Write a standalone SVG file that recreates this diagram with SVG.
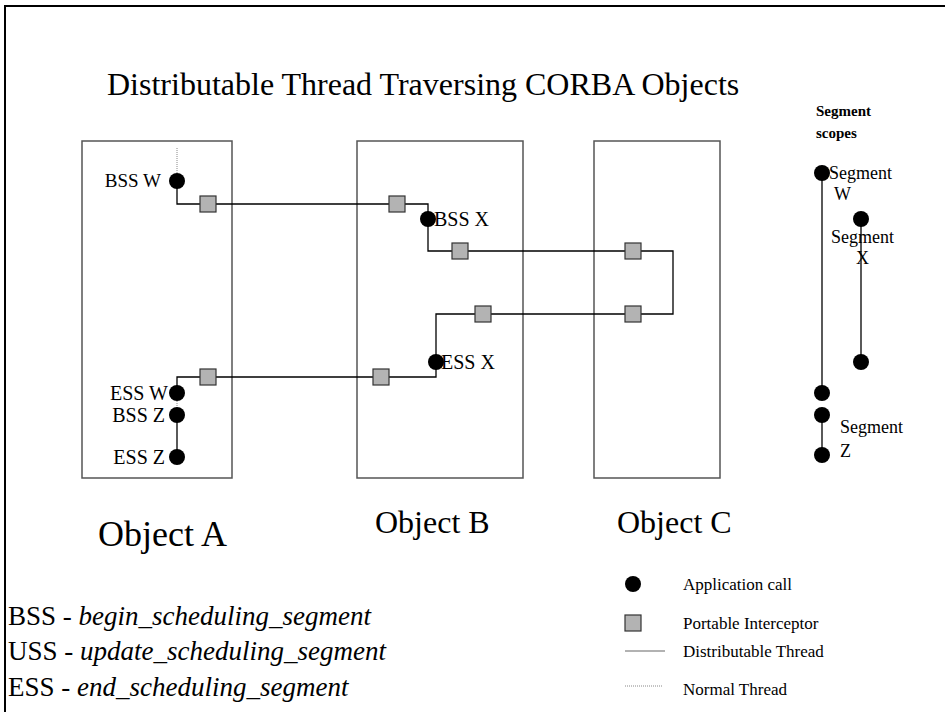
<svg xmlns="http://www.w3.org/2000/svg" width="945" height="712" viewBox="0 0 945 712">
<style>
text{font-family:"Liberation Serif","Times New Roman",serif;fill:#000}
.obj{fill:#fff;stroke:#555;stroke-width:1.5}
.th{fill:none;stroke:#000;stroke-width:1.3}
.nt{fill:none;stroke:#888;stroke-width:1;stroke-dasharray:1,1}
.pi{fill:#b3b3b3;stroke:#333;stroke-width:1.2}
.ac{fill:#000}
.lbl{font-size:20px}
.seg{font-size:18px}
.leg{font-size:17px}
.key{font-size:27px}
</style>
<rect x="0" y="0" width="945" height="712" fill="#fff"/>
<path d="M5,712 V6 H945" fill="none" stroke="#000" stroke-width="2"/>
<text x="107" y="95" font-size="32">Distributable Thread Traversing CORBA Objects</text>

<g id="objectA"><rect class="obj" x="82" y="141" width="150" height="337"/><text x="98" y="546" font-size="36">Object A</text></g>
<g id="objectB"><rect class="obj" x="357" y="141" width="166" height="337"/><text x="375" y="533" font-size="32">Object B</text></g>
<g id="objectC"><rect class="obj" x="594" y="141" width="126" height="337"/><text x="617" y="533" font-size="32">Object C</text></g>

<g id="connectors">
<path class="nt" d="M177,148 V173"/>
<path class="th" d="M177,181 V204 H428 V219"/>
<path class="th" d="M428,219 V251 H673 V314 H436 V362"/>
<path class="th" d="M436,362 V377 H177 V393"/>
<path class="nt" d="M177,393 V415"/>
<path class="th" d="M177,415 V457"/>
</g>

<g id="bssW"><circle class="ac" cx="177" cy="181" r="8"/><text x="161" y="187" font-size="19" text-anchor="end">BSS W</text></g>
<g id="bssX"><circle class="ac" cx="428" cy="219" r="8"/><text class="lbl" x="434" y="226">BSS X</text></g>
<g id="essX"><circle class="ac" cx="436" cy="362" r="8"/><text class="lbl" x="441" y="369">ESS X</text></g>
<g id="essW"><circle class="ac" cx="177" cy="393" r="8"/><text class="lbl" x="168" y="400" text-anchor="end">ESS W</text></g>
<g id="bssZ"><circle class="ac" cx="177" cy="415" r="8"/><text class="lbl" x="165" y="422" text-anchor="end">BSS Z</text></g>
<g id="essZ"><circle class="ac" cx="177" cy="457" r="8"/><text class="lbl" x="165" y="464" text-anchor="end">ESS Z</text></g>

<g id="pi1"><rect class="pi" x="200" y="196" width="16" height="16"/></g>
<g id="pi2"><rect class="pi" x="389" y="196" width="16" height="16"/></g>
<g id="pi3"><rect class="pi" x="452" y="243" width="16" height="16"/></g>
<g id="pi4"><rect class="pi" x="625" y="243" width="16" height="16"/></g>
<g id="pi5"><rect class="pi" x="625" y="306" width="16" height="16"/></g>
<g id="pi6"><rect class="pi" x="475" y="306" width="16" height="16"/></g>
<g id="pi7"><rect class="pi" x="373" y="369" width="16" height="16"/></g>
<g id="pi8"><rect class="pi" x="200" y="369" width="16" height="16"/></g>

<g id="segmentScopes">
<text x="816" y="116" font-size="15" font-weight="bold">Segment</text>
<text x="816" y="138" font-size="15" font-weight="bold">scopes</text>
<path class="th" d="M822,173 V393"/>
<circle class="ac" cx="822" cy="173" r="8"/>
<circle class="ac" cx="822" cy="393" r="8"/>
<text class="seg" x="829" y="179">Segment</text>
<text class="seg" x="834" y="200">W</text>
<path class="th" d="M861,219 V362"/>
<circle class="ac" cx="861" cy="219" r="8"/>
<circle class="ac" cx="861" cy="362" r="8"/>
<text class="seg" x="831" y="243">Segment</text>
<text class="seg" x="856" y="264">X</text>
<path class="th" d="M822,415 V455"/>
<circle class="ac" cx="822" cy="415" r="8"/>
<circle class="ac" cx="822" cy="455" r="8"/>
<text class="seg" x="840" y="433">Segment</text>
<text class="seg" x="840" y="457">Z</text>
</g>

<g id="legend">
<circle class="ac" cx="633" cy="584" r="8"/>
<text class="leg" x="683" y="590">Application call</text>
<rect class="pi" x="625" y="615" width="16" height="16"/>
<text class="leg" x="683" y="629">Portable Interceptor</text>
<path d="M625,651 H665" stroke="#666" stroke-width="1.2"/>
<text class="leg" x="683" y="657">Distributable Thread</text>
<path class="nt" d="M625,686 H663"/>
<text class="leg" x="683" y="695">Normal Thread</text>
</g>

<g id="abbrev">
<text class="key" x="8" y="625">BSS - <tspan font-style="italic">begin_scheduling_segment</tspan></text>
<text class="key" x="8" y="660">USS - <tspan font-style="italic">update_scheduling_segment</tspan></text>
<text class="key" x="8" y="696">ESS - <tspan font-style="italic">end_scheduling_segment</tspan></text>
</g>
</svg>
